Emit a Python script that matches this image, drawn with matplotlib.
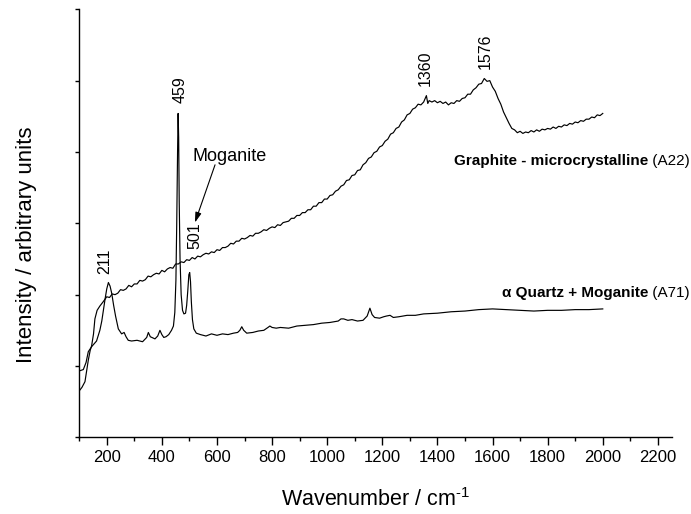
import matplotlib
matplotlib.use("Agg")
import matplotlib.pyplot as plt

# Raman spectra, values (arbitrary units)

# Graphite - microcrystalline (A22)
graphite_wn = ([100, 110, 121, 133, 140, 145, 152, 157, 165, 175, 187]
               + list(range(200, 1361, 10)) + [1365] + list(range(1370, 2001, 10)))
graphite_int = [0.65, 0.70, 0.78, 1.08, 1.22, 1.28, 1.45, 1.66, 1.78, 1.84, 1.90,
                # 200 - 590
                1.97, 1.96, 2.01, 2.00, 2.02, 2.07, 2.06, 2.08, 2.13, 2.11,
                2.15, 2.15, 2.20, 2.19, 2.21, 2.26, 2.25, 2.28, 2.30, 2.29,
                2.34, 2.32, 2.36, 2.38, 2.37, 2.43, 2.43, 2.46, 2.45, 2.49,
                2.48, 2.52, 2.50, 2.54, 2.53, 2.56, 2.58, 2.57, 2.60, 2.59,
                # 600 - 990
                2.63, 2.62, 2.66, 2.66, 2.68, 2.72, 2.71, 2.75, 2.75, 2.79,
                2.78, 2.80, 2.83, 2.82, 2.86, 2.86, 2.88, 2.91, 2.90, 2.93,
                2.95, 2.94, 2.98, 2.97, 3.01, 3.02, 3.03, 3.07, 3.07, 3.11,
                3.11, 3.15, 3.15, 3.19, 3.19, 3.24, 3.24, 3.29, 3.29, 3.34,
                # 1000 - 1360
                3.34, 3.39, 3.40, 3.45, 3.47, 3.52, 3.54, 3.60, 3.61, 3.67,
                3.68, 3.74, 3.75, 3.82, 3.85, 3.91, 3.93, 3.99, 4.01, 4.07,
                4.09, 4.15, 4.18, 4.25, 4.27, 4.33, 4.35, 4.42, 4.45, 4.52,
                4.54, 4.60, 4.62, 4.67, 4.66, 4.70, 4.79,
                # 1365
                4.68,
                # 1370 - 1690
                4.72, 4.70, 4.72, 4.69, 4.71, 4.68, 4.70, 4.66, 4.69, 4.68,
                4.72, 4.71, 4.75, 4.76, 4.81, 4.81, 4.87, 4.90, 4.95, 4.96,
                5.03, 4.99, 5.00, 4.91, 4.85, 4.75, 4.67, 4.56, 4.48, 4.40,
                4.33, 4.31, 4.27,
                # 1700 - 2000
                4.29, 4.26, 4.28, 4.27, 4.30, 4.28, 4.31, 4.29, 4.32, 4.31,
                4.33, 4.32, 4.35, 4.33, 4.36, 4.35, 4.38, 4.37, 4.40, 4.39,
                4.42, 4.41, 4.44, 4.43, 4.46, 4.46, 4.49, 4.48, 4.52, 4.51,
                4.54]

# alpha Quartz + Moganite (A71)
quartz_wn = [100, 115, 125, 133, 145, 163, 175, 182, 194, 200,
             206, 212, 218, 225, 232, 242, 254, 263, 270, 278,
             290, 310, 330, 345, 351, 358, 375, 385, 393, 400,
             407, 415, 425, 435, 442, 447, 451, 454, 457, 459,
             461, 463, 466, 470, 475, 480, 486, 490, 494, 498,
             501, 504, 507, 511, 516, 525, 540, 560, 580, 600,
             620, 640, 660, 675, 683, 690, 697, 708, 730, 750,
             770, 785, 792, 800, 815, 830, 860, 890, 920, 950,
             980, 1010, 1040, 1050, 1060, 1075, 1090, 1110, 1130, 1145,
             1155, 1163, 1172, 1190, 1205, 1215, 1228, 1240, 1260, 1290,
             1320, 1350, 1400, 1450, 1500, 1550, 1600, 1650, 1700, 1750,
             1800, 1850, 1900, 1950, 2000]
quartz_int = [0.93, 0.95, 1.05, 1.20, 1.27, 1.35, 1.50, 1.63, 1.94, 2.08,
              2.17, 2.12, 2.02, 1.85, 1.70, 1.52, 1.45, 1.47, 1.41, 1.36,
              1.35, 1.36, 1.34, 1.40, 1.47, 1.41, 1.38, 1.42, 1.50, 1.44,
              1.40, 1.41, 1.44, 1.50, 1.56, 1.75, 2.20, 3.00, 4.00, 4.54,
              4.20, 3.30, 2.50, 2.00, 1.78, 1.73, 1.74, 1.85, 2.05, 2.28,
              2.31, 2.18, 1.90, 1.65, 1.52, 1.46, 1.44, 1.42, 1.45, 1.43,
              1.45, 1.44, 1.46, 1.47, 1.50, 1.55, 1.50, 1.46, 1.47, 1.49,
              1.50, 1.54, 1.56, 1.54, 1.53, 1.54, 1.53, 1.56, 1.57, 1.58,
              1.60, 1.61, 1.63, 1.66, 1.66, 1.64, 1.65, 1.63, 1.64, 1.70,
              1.81, 1.72, 1.68, 1.67, 1.69, 1.70, 1.71, 1.68, 1.69, 1.71,
              1.71, 1.73, 1.74, 1.76, 1.77, 1.79, 1.80, 1.79, 1.78, 1.77,
              1.78, 1.78, 1.79, 1.79, 1.80]

# peak labels: text, wavenumber of label, intensity of label bottom
peak_labels = ["211", "459", "501", "1360", "1576"]
peak_x = [194, 466, 520, 1355, 1572]
peak_y = [2.29, 4.68, 2.64, 4.92, 5.17]

plt.rcParams['font.family'] = ['Liberation Sans', 'DejaVu Sans']
plt.rcParams['mathtext.fontset'] = 'custom'
plt.rcParams['mathtext.rm'] = 'Liberation Sans'
plt.rcParams['mathtext.it'] = 'Liberation Sans:italic'

fig = plt.figure(figsize=(6.91, 5.14), dpi=100)
ax = fig.add_axes([0.1146, 0.1492, 0.8574, 0.8327])

ax.plot(graphite_wn, graphite_int, color='black', lw=0.85)
ax.plot(quartz_wn, quartz_int, color='black', lw=0.85)

ax.set_xlim(100, 2250)
ax.set_ylim(0, 6)

# axes look like Origin: only left and bottom, ticks outside
ax.spines['top'].set_visible(False)
ax.spines['right'].set_visible(False)
ax.spines['left'].set_linewidth(1.0)
ax.spines['bottom'].set_linewidth(1.0)

ax.set_xticks(range(200, 2201, 200))
ax.set_xticks(range(100, 2251, 100), minor=True)
ax.set_yticks(range(0, 7))
ax.set_yticklabels([])
ax.tick_params(axis='x', which='major', direction='out', length=5.5, width=1.0,
               labelsize=12, pad=3.5)
ax.tick_params(axis='x', which='minor', direction='out', length=3, width=1.0)
ax.tick_params(axis='y', which='major', direction='out', length=3, width=1.0)

ax.set_xlabel('Wavenumber / cm$^{\\text{-1}}$', fontsize=15.5, va='top')
ax.xaxis.set_label_coords(0.5, -0.118)
ax.set_ylabel('Intensity / arbitrary units', fontsize=16)
ax.yaxis.set_label_coords(-0.072, 0.449)

for lab, x, y in zip(peak_labels, peak_x, peak_y):
    ax.text(x, y, lab, rotation=90, ha='center', va='bottom', fontsize=11.5)

# moganite arrow
ax.text(645, 3.93, 'Moganite', ha='center', va='center', fontsize=13)
ax.annotate('', xy=(520, 3.01), xytext=(593, 3.82),
            arrowprops=dict(arrowstyle='-|>,head_width=0.18,head_length=0.6',
                            color='black', lw=0.8, shrinkA=0, shrinkB=0))

# sample labels, bold name + plain code, right aligned at figure edge
t1 = ax.text(2316, 3.88, ' (A22)', ha='right', va='center', fontsize=11, clip_on=False)
ax.annotate('Graphite - microcrystalline', xy=(0, 0.5), xycoords=t1,
            ha='right', va='center', fontsize=11, weight='bold')
t2 = ax.text(2316, 2.02, ' (A71)', ha='right', va='center', fontsize=11, clip_on=False)
ax.annotate('α Quartz + Moganite', xy=(0, 0.5), xycoords=t2,
            ha='right', va='center', fontsize=11, weight='bold')

fig.savefig('out.png', dpi=100)
